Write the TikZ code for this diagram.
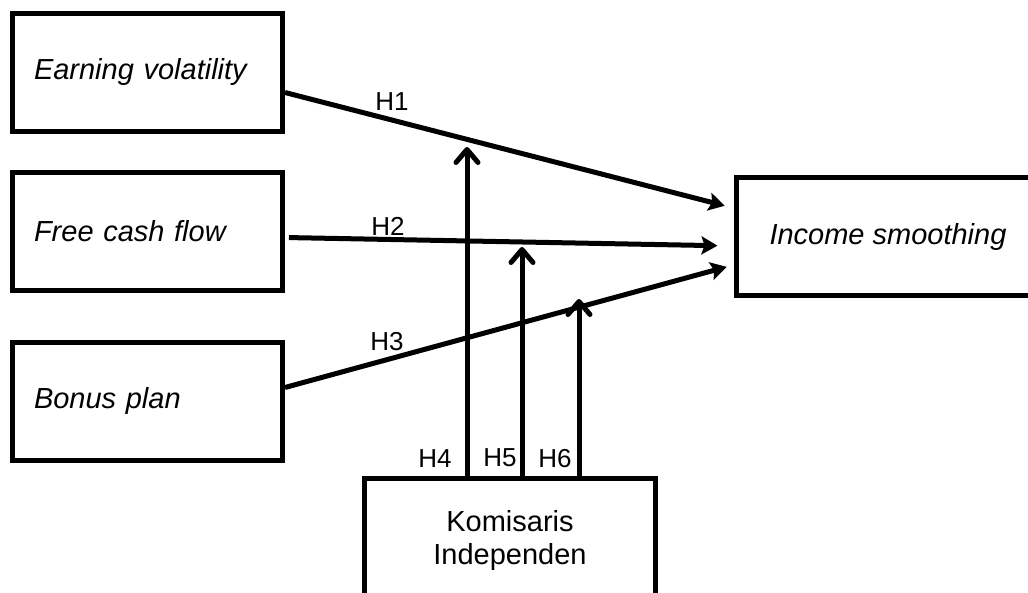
\documentclass[tikz,border=0pt]{standalone}
\usepackage{fontspec}
\setmainfont{Liberation Sans}
\usetikzlibrary{arrows.meta,positioning}

\begin{document}
\begin{tikzpicture}[x=0.5pt,y=-0.5pt,line width=2.5pt,
    font=\fontsize{14.5}{16.5}\selectfont,
    box/.style={draw,minimum height=59pt,inner sep=0pt},
    varbox/.style={box,text width=113.5pt,inner xsep=10.75pt,align=left,font=\fontsize{14.5}{16.5}\selectfont\itshape},
    hlabel/.style={font=\fontsize{13}{15}\selectfont},
    main/.style={-{Stealth[length=8pt,width=9pt,inset=1.5pt]}},
    moder/.style={-{Straight Barb[length=6.5pt,width=11pt,round]}}]

\useasboundingbox (0,0) rectangle (1028,593);
\clip (0,0) rectangle (1028,593);

\node[varbox] (EV) at (147.5,72.5)     {Earning volatility};
\node[varbox] (FCF) [below=18pt of EV]   {Free cash flow};
\node[varbox] (BP) [below=23.5pt of FCF] {Bonus plan};

\node[box, minimum width=152pt, font=\fontsize{14.5}{16.5}\selectfont\itshape] (IS) at (888,237) {Income smoothing};
\node[box, minimum width=145.5pt, minimum height=61.5pt, align=center] (KI) at (510,540) {Komisaris\\Independen};

\coordinate (T4) at (467,147);
\coordinate (T5) at (522,247);
\coordinate (T6) at (579,299);

\draw[main, shorten >=4.5pt] ([yshift=-10pt]EV.east) -- ([yshift=14.5pt]IS.west);
\draw[main, shorten <=2pt, shorten >=8pt] ([yshift=-3pt]FCF.east) -- ([yshift=-4.5pt]IS.west);
\draw[main, shorten >=3.5pt] ([yshift=7pt]BP.east) -- ([yshift=-14pt]IS.west);

\draw[moder] (KI.north -| T4) -- (T4);
\draw[moder] (KI.north -| T5) -- (T5);
\draw[moder] (KI.north -| T6) -- (T6);

\node[hlabel] (H1) at (392,102) {H1};
\node[hlabel] (H2) at (388,226) {H2};
\node[hlabel] (H3) at (387,342) {H3};
\node[hlabel] (H4) at (435,459) {H4};
\node[hlabel] (H5) at (500,458) {H5};
\node[hlabel] (H6) at (555,459) {H6};

\end{tikzpicture}
\end{document}
